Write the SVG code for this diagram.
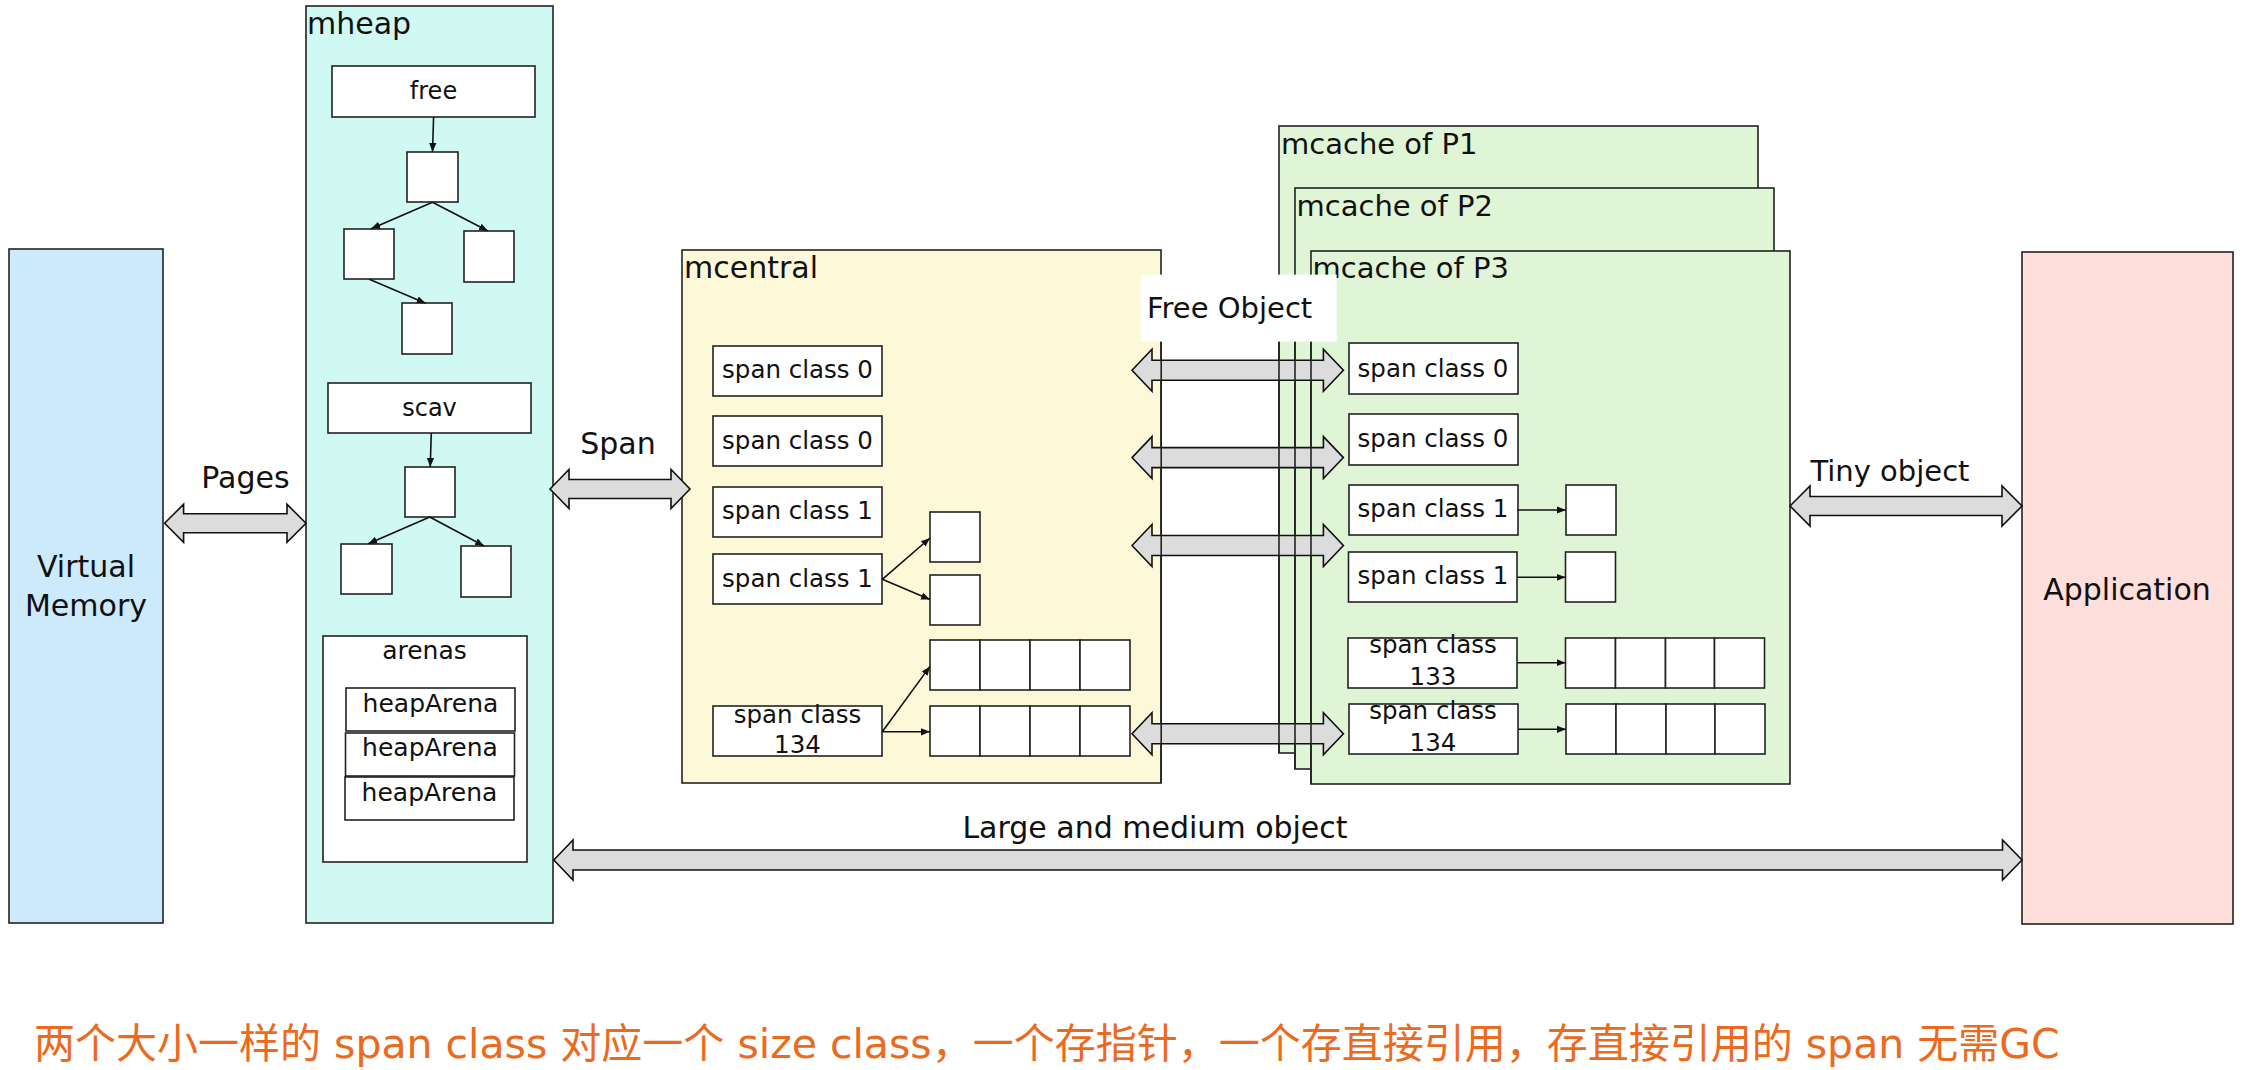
<svg xmlns="http://www.w3.org/2000/svg" width="2243" height="1070" viewBox="0 0 2243 1070">
<defs>
<style>
text{font-family:"DejaVu Sans","Noto Sans",sans-serif;fill:#111}
.big{font-size:30px}
.mc{font-size:29px}
.sm{font-size:24px}
.ar{font-size:25px}
.sp{font-size:24.5px}
.mid{text-anchor:middle}
.box{fill:#fff;stroke:#222;stroke-width:1.6}
.cont{stroke:#222;stroke-width:1.6}
.dbl{fill:#dcdcdc;stroke:#111;stroke-width:1.6;stroke-linejoin:miter}
.ln{stroke:#111;stroke-width:1.6;fill:none;marker-end:url(#ah)}
.ov{stroke:#222;stroke-width:1.6}
</style>
<marker id="ah" viewBox="0 0 10 10" refX="10" refY="5" markerWidth="9" markerHeight="9" markerUnits="userSpaceOnUse" orient="auto">
<path d="M0,1 L10,5 L0,9 Z" fill="#111"/>
</marker>
</defs>
<rect width="2243" height="1070" fill="#fff"/>

<g id="virtual-memory">
<rect class="cont" x="9" y="249" width="154" height="674" fill="#cdeafc"/>
<text class="big mid" x="86" y="577">Virtual</text>
<text class="big mid" x="86" y="616">Memory</text>
</g>

<g id="mheap">
<rect class="cont" x="306" y="6" width="247" height="917" fill="#d0f9f4"/>
<text class="big" x="307" y="34">mheap</text>
<g id="free">
<rect class="box" x="332" y="66" width="203" height="51"/>
<text class="sm mid" x="433.5" y="99">free</text>
<rect class="box" x="407" y="152" width="51" height="50"/>
<rect class="box" x="344" y="229" width="50" height="50"/>
<rect class="box" x="464" y="231" width="50" height="51"/>
<rect class="box" x="402" y="303" width="50" height="51"/>
</g>
<g id="scav">
<rect class="box" x="328" y="383" width="203" height="50"/>
<text class="sm mid" x="429.5" y="416">scav</text>
<rect class="box" x="405" y="467" width="50" height="50"/>
<rect class="box" x="341" y="544" width="51" height="50"/>
<rect class="box" x="461" y="546" width="50" height="51"/>
</g>
<g id="arenas">
<rect class="box" x="323" y="636" width="204" height="226"/>
<text class="ar mid" x="424.5" y="659">arenas</text>
<rect class="box" x="346" y="688" width="169" height="43"/>
<text class="ar mid" x="430.5" y="712">heapArena</text>
<rect class="box" x="345.5" y="733" width="169" height="43"/>
<text class="ar mid" x="430" y="756">heapArena</text>
<rect class="box" x="345" y="777" width="169" height="43"/>
<text class="ar mid" x="429.5" y="801">heapArena</text>
</g>
</g>

<g id="mcentral">
<rect class="cont" x="682" y="250" width="479" height="533" fill="#fdf8d8"/>
<text class="big" x="684" y="278">mcentral</text>
<rect class="box" x="713" y="346" width="169" height="50"/>
<text class="sp mid" x="797.5" y="378">span class 0</text>
<rect class="box" x="713" y="416" width="169" height="50"/>
<text class="sp mid" x="797.5" y="449">span class 0</text>
<rect class="box" x="713" y="487" width="169" height="50"/>
<text class="sp mid" x="797.5" y="519">span class 1</text>
<rect class="box" x="713" y="554" width="169" height="50"/>
<text class="sp mid" x="797.5" y="587">span class 1</text>
<rect class="box" x="713" y="706" width="169" height="50"/>
<text class="sp mid" x="797.5" y="723">span class</text>
<text class="sp mid" x="797.5" y="753">134</text>
<rect class="box" x="930" y="512" width="50" height="50"/>
<rect class="box" x="930" y="575" width="50" height="50"/>
<rect class="box" x="930" y="640" width="50" height="50"/>
<rect class="box" x="980" y="640" width="50" height="50"/>
<rect class="box" x="1030" y="640" width="50" height="50"/>
<rect class="box" x="1080" y="640" width="50" height="50"/>
<rect class="box" x="930" y="706" width="50" height="50"/>
<rect class="box" x="980" y="706" width="50" height="50"/>
<rect class="box" x="1030" y="706" width="50" height="50"/>
<rect class="box" x="1080" y="706" width="50" height="50"/>
</g>

<g id="mcache-p1">
<rect class="cont" x="1279" y="126" width="479" height="627" fill="#dff5d6"/>
<text class="mc" x="1281" y="154">mcache of P1</text>
</g>
<g id="mcache-p2">
<rect class="cont" x="1295" y="188" width="479" height="581" fill="#dff5d6"/>
<text class="mc" x="1296.5" y="216">mcache of P2</text>
</g>
<g id="mcache-p3">
<rect class="cont" x="1311" y="251" width="479" height="533" fill="#dff5d6"/>
<text class="mc" x="1312.5" y="278">mcache of P3</text>
<rect class="box" x="1349" y="343" width="169" height="51"/>
<text class="sp mid" x="1433" y="377">span class 0</text>
<rect class="box" x="1349" y="414" width="169" height="51"/>
<text class="sp mid" x="1433" y="447">span class 0</text>
<rect class="box" x="1349" y="485" width="169" height="50"/>
<text class="sp mid" x="1433" y="517">span class 1</text>
<rect class="box" x="1348.5" y="552" width="168.5" height="50"/>
<text class="sp mid" x="1433" y="584">span class 1</text>
<rect class="box" x="1348" y="638" width="169" height="50"/>
<text class="sp mid" x="1433" y="653">span class</text>
<text class="sp mid" x="1433" y="685">133</text>
<rect class="box" x="1349" y="704" width="169" height="50"/>
<text class="sp mid" x="1433" y="719">span class</text>
<text class="sp mid" x="1433" y="751">134</text>
<rect class="box" x="1566" y="485" width="50" height="50"/>
<rect class="box" x="1565.5" y="552" width="50" height="50"/>
<rect class="box" x="1565.5" y="638" width="50" height="50"/>
<rect class="box" x="1615.5" y="638" width="50" height="50"/>
<rect class="box" x="1665.5" y="638" width="49" height="50"/>
<rect class="box" x="1714.5" y="638" width="50" height="50"/>
<rect class="box" x="1566" y="704" width="50" height="50"/>
<rect class="box" x="1616" y="704" width="50" height="50"/>
<rect class="box" x="1666" y="704" width="49" height="50"/>
<rect class="box" x="1715" y="704" width="50" height="50"/>
</g>

<g id="application">
<rect class="cont" x="2022" y="252" width="211" height="672" fill="#ffdfdc"/>
<text class="big mid" x="2127" y="600">Application</text>
</g>

<g id="connectors">
<line class="ln" x1="433.6" y1="117" x2="432.5" y2="152"/>
<line class="ln" x1="432.5" y1="202.3" x2="371.2" y2="228.7"/>
<line class="ln" x1="432.5" y1="202.3" x2="488" y2="231"/>
<line class="ln" x1="369.3" y1="279.3" x2="425.6" y2="303.3"/>
<line class="ln" x1="431.3" y1="433" x2="430.2" y2="467"/>
<line class="ln" x1="429.8" y1="517" x2="368.2" y2="543.7"/>
<line class="ln" x1="429.8" y1="517" x2="484.1" y2="546"/>
<line class="ln" x1="882.3" y1="579.3" x2="930" y2="538"/>
<line class="ln" x1="882.3" y1="579.3" x2="930" y2="599.6"/>
<line class="ln" x1="882.3" y1="731.8" x2="930" y2="666.4"/>
<line class="ln" x1="882.3" y1="731.8" x2="930" y2="731.8"/>
<line class="ln" x1="1517.5" y1="510" x2="1566" y2="510"/>
<line class="ln" x1="1517" y1="577.3" x2="1565.5" y2="577.3"/>
<line class="ln" x1="1517" y1="662.7" x2="1565.5" y2="662.7"/>
<line class="ln" x1="1518" y1="729.3" x2="1566" y2="729.3"/>

<path class="dbl" d="M164.6 523.3 L183.6 504.3 L183.6 513.8 L287 513.8 L287 504.3 L306 523.3 L287 542.3 L287 532.8 L183.6 532.8 L183.6 542.3 Z"/>
<text class="big mid" x="245.5" y="488">Pages</text>
<path class="dbl" d="M550 489 L569 469.5 L569 479.5 L671 479.5 L671 469.5 L690 489 L671 508.5 L671 498.5 L569 498.5 L569 508.5 Z"/>
<text class="big mid" x="618" y="454">Span</text>
<path class="dbl" d="M1132 370.2 L1152 349.2 L1152 360.2 L1323.4 360.2 L1323.4 349.2 L1343.4 370.2 L1323.4 391.2 L1323.4 380.2 L1152 380.2 L1152 391.2 Z"/>
<path class="dbl" d="M1132 457.6 L1152 436.6 L1152 447.6 L1323.4 447.6 L1323.4 436.6 L1343.4 457.6 L1323.4 478.6 L1323.4 467.6 L1152 467.6 L1152 478.6 Z"/>
<path class="dbl" d="M1132 545.5 L1152 524.5 L1152 535.5 L1323.4 535.5 L1323.4 524.5 L1343.4 545.5 L1323.4 566.5 L1323.4 555.5 L1152 555.5 L1152 566.5 Z"/>
<path class="dbl" d="M1132 733.8 L1152 712.8 L1152 723.8 L1323.4 723.8 L1323.4 712.8 L1343.4 733.8 L1323.4 754.8 L1323.4 743.8 L1152 743.8 L1152 754.8 Z"/>
<line class="ov" x1="1161.2" y1="341" x2="1161.2" y2="783"/>
<line class="ov" x1="1279" y1="341" x2="1279" y2="753"/>
<line class="ov" x1="1295" y1="341" x2="1295" y2="769"/>
<line class="ov" x1="1311" y1="341" x2="1311" y2="784"/>
<path class="dbl" d="M1790 506 L1810 486 L1810 496.5 L2002 496.5 L2002 486 L2022 506 L2002 526 L2002 515.5 L1810 515.5 L1810 526 Z"/>
<text class="mc mid" x="1890" y="481">Tiny object</text>
<path class="dbl" d="M553.8 860 L573 840 L573 850 L2002.5 850 L2002.5 840 L2022 860 L2002.5 880 L2002.5 870 L573 870 L573 880 Z"/>
<text class="big mid" x="1155" y="838">Large and medium object</text>
<rect x="1140.7" y="274.6" width="196" height="67" fill="#fff"/>
<text class="mc" x="1147" y="317.5">Free Object</text>
</g>

<text x="34" y="1058" style="font-family:'DejaVu Sans','Noto Sans CJK SC',sans-serif;font-size:41px;fill:#ec6a1e">两个大小一样的 span class 对应一个 size class，一个存指针，一个存直接引用，存直接引用的 span 无需GC</text>
</svg>
